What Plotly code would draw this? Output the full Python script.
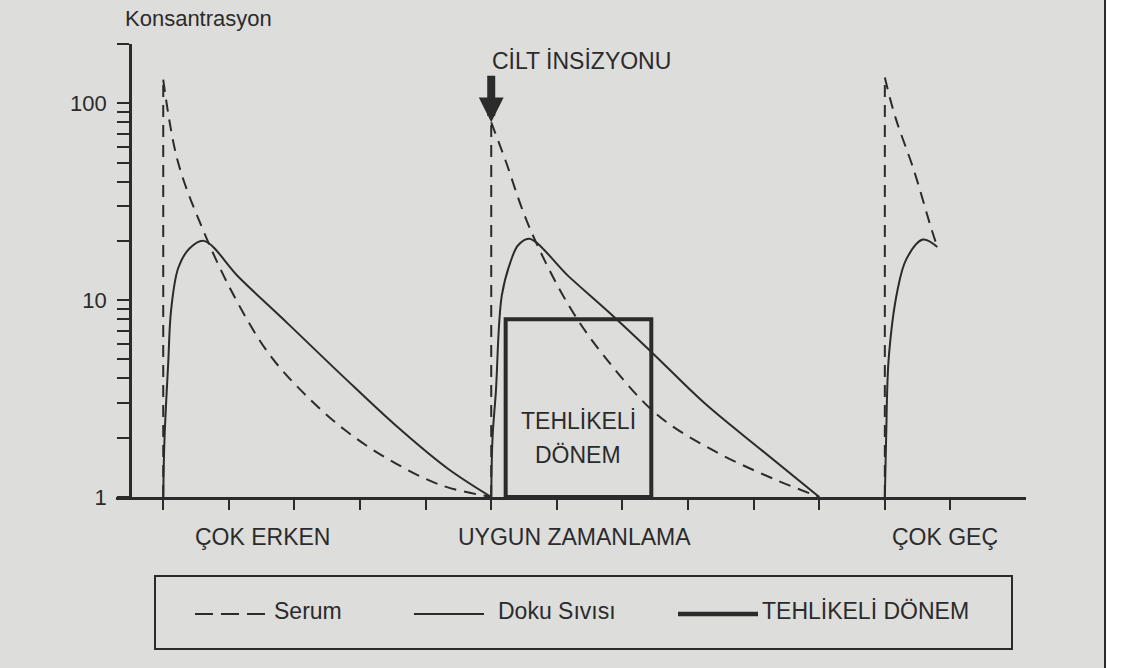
import math
import plotly.graph_objects as go

# ---------------- data ----------------
dose_times = [0.0, 5.0, 11.0]          # antibiotic doses (time units)
serum_peak = [132, 80, 135]            # serum concentration right after each dose

# serum decay after each dose
serum1_t = [0.0, 0.22, 0.6, 1.06, 1.6, 2.13, 2.76, 3.44, 4.23, 5.0]
serum1_c = [132, 51, 23, 10.8, 5.4, 3.4, 2.2, 1.55, 1.15, 1.0]
serum2_t = [5.0, 5.21, 5.58, 6.19, 6.76, 7.54, 8.42, 9.32, 10.0]
serum2_c = [80, 52, 23.5, 9.3, 5.0, 2.6, 1.7, 1.23, 1.0]
serum3_t = [11.0, 11.16, 11.44, 11.70, 11.80]
serum3_c = [135, 85, 46, 23.6, 18.6]

# tissue fluid concentration after each dose
tissue1_t = [0.0, 0.02, 0.076, 0.12, 0.23, 0.40, 0.62, 1.16, 1.9, 2.74, 3.55, 4.33, 5.0]
tissue1_c = [1.0, 2.0, 4.8, 8.9, 14.6, 18.3, 20.0, 13.0, 7.6, 4.1, 2.3, 1.4, 1.0]
tissue2_t = [5.0, 5.02, 5.07, 5.16, 5.29, 5.41, 5.58, 6.18, 6.79, 7.48, 8.25, 9.13, 10.0]
tissue2_c = [1.0, 2.0, 3.4, 10.5, 15.5, 19.0, 20.5, 13.2, 8.7, 5.3, 3.0, 1.72, 1.0]
tissue3_t = [11.0, 11.02, 11.06, 11.19, 11.33, 11.58, 11.80]
tissue3_c = [1.0, 2.0, 5.1, 11.1, 16.2, 20.3, 18.6]

# dangerous period (time window and concentration ceiling)
danger_start = 5.22
danger_end = 7.44
danger_level = 8.0

x_ticks = list(range(0, 13))
y_tickvals = [1, 2, 3, 4, 5, 6, 7, 8, 9, 10, 20, 30, 40, 50, 60, 70, 80, 90, 100, 200]
y_ticktext = ["1", "", "", "", "", "", "", "", "", "10", "", "", "", "", "", "", "", "", "100", ""]

phase_labels = ["ÇOK ERKEN", "UYGUN ZAMANLAMA", "ÇOK GEÇ"]

# ---------------- styling ----------------
INK = "#2b2b2b"
PAPER = "#dddddb"
FONT = "Liberation Sans, Arial, Helvetica, sans-serif"
DASH = "12px,8px"

L, R, T, B = 116, 100, 44, 171
W_FIG, H_FIG = 1126, 668
W = W_FIG - L - R
H = H_FIG - T - B


def px_x(px):
    return (px - L) / W


def px_y(py):
    return (H + T - py) / H


def label(text, x, y, xref="paper", size=23, xanchor="center"):
    return dict(text=text, xref=xref, yref="paper", x=x, y=y,
                xanchor=xanchor, yanchor="middle", showarrow=False,
                font=dict(size=size, color=INK, family=FONT))


fig = go.Figure()

# serum: vertical rise at each dose
rise_x, rise_y = [], []
for t, p in zip(dose_times, serum_peak):
    rise_x += [t, t, None]
    rise_y += [1, p, None]
fig.add_trace(go.Scatter(x=rise_x, y=rise_y, mode="lines",
                         line=dict(color=INK, width=2, dash=DASH),
                         hoverinfo="skip", showlegend=False))

# serum decays
for tx, cy in [(serum1_t, serum1_c), (serum2_t, serum2_c), (serum3_t, serum3_c)]:
    fig.add_trace(go.Scatter(x=tx, y=cy, mode="lines",
                             line=dict(color=INK, width=2, dash=DASH, shape="spline", smoothing=1.0),
                             showlegend=False))

# tissue fluid curves
for tx, cy in [(tissue1_t, tissue1_c), (tissue2_t, tissue2_c), (tissue3_t, tissue3_c)]:
    fig.add_trace(go.Scatter(x=tx, y=cy, mode="lines",
                             line=dict(color=INK, width=2, shape="spline", smoothing=1.0),
                             showlegend=False))

# dangerous-period box
fig.add_trace(go.Scatter(
    x=[danger_start, danger_start, danger_end, danger_end, danger_start],
    y=[1, danger_level, danger_level, 1, 1],
    mode="lines", line=dict(color=INK, width=4), showlegend=False))

annotations = []

# axis title
annotations.append(label("Konsantrasyon", px_x(198), px_y(19), size=22))

# incision arrow pointing at the second dose
annotations.append(dict(x=dose_times[1], y=math.log10(serum_peak[1]), xref="x", yref="y",
                        text="", showarrow=True, ax=0, ay=-48,
                        arrowhead=2, arrowsize=0.62, arrowwidth=8, arrowcolor=INK))
annotations.append(label("CİLT İNSİZYONU", px_x(581), px_y(61)))

# text inside the box
box_mid = (danger_start + danger_end) / 2
annotations.append(label("TEHLİKELİ", box_mid, px_y(421), xref="x"))
annotations.append(label("DÖNEM", box_mid, px_y(455), xref="x"))

# timing labels under the axis
for lab, xc in zip(phase_labels, [1.52, 6.27, 11.92]):
    annotations.append(label(lab, xc, px_y(537), xref="x"))

# legend entries
leg_y_line = px_y(614)
leg_y_text = px_y(611)
annotations.append(label("Serum", px_x(272), leg_y_text, xanchor="left"))
annotations.append(label("Doku Sıvısı", px_x(496), leg_y_text, xanchor="left"))
annotations.append(label("TEHLİKELİ DÖNEM", px_x(760), leg_y_text, xanchor="left"))

shapes = [
    # legend frame
    dict(type="rect", xref="paper", yref="paper", x0=px_x(155), x1=px_x(1012),
         y0=px_y(649), y1=px_y(576), line=dict(color=INK, width=2)),
    dict(type="line", xref="paper", yref="paper", x0=px_x(195), x1=px_x(267),
         y0=leg_y_line, y1=leg_y_line, line=dict(color=INK, width=2, dash="18px,8px")),
    dict(type="line", xref="paper", yref="paper", x0=px_x(414), x1=px_x(484),
         y0=leg_y_line, y1=leg_y_line, line=dict(color=INK, width=2)),
    dict(type="line", xref="paper", yref="paper", x0=px_x(678), x1=px_x(758),
         y0=leg_y_line, y1=leg_y_line, line=dict(color=INK, width=4.5)),
    # page edge on the right
    dict(type="rect", xref="paper", yref="paper", x0=px_x(1105), x1=px_x(1140),
         y0=px_y(700), y1=px_y(-30), fillcolor="white", line=dict(width=0), layer="below"),
    dict(type="line", xref="paper", yref="paper", x0=px_x(1105), x1=px_x(1105),
         y0=px_y(700), y1=px_y(-30), line=dict(color=INK, width=2)),
]

x_lo = -0.72
x_hi = x_lo + W / 65.6
y_axis_t = -0.51

fig.update_layout(
    width=W_FIG, height=H_FIG,
    margin=dict(l=L, r=R, t=T, b=B, pad=0),
    paper_bgcolor=PAPER, plot_bgcolor=PAPER,
    showlegend=False,
    font=dict(family=FONT, color=INK),
    annotations=annotations,
    shapes=shapes,
    xaxis=dict(range=[x_lo, x_hi], showgrid=False, zeroline=False,
               showline=True, linecolor=INK, linewidth=2.5,
               tickmode="array", tickvals=x_ticks, ticks="outside",
               ticklen=10, tickwidth=2, tickcolor=INK, showticklabels=False),
    yaxis=dict(type="log", range=[0, math.log10(200)], showgrid=False, zeroline=False,
               anchor="free", position=(y_axis_t - x_lo) / (x_hi - x_lo),
               showline=True, linecolor=INK, linewidth=2.5,
               tickmode="array", tickvals=y_tickvals, ticktext=y_ticktext,
               ticks="outside", ticklen=12, tickwidth=2, tickcolor=INK,
               ticklabelstandoff=6,
               tickfont=dict(size=22, color=INK, family=FONT)),
)

fig.write_html("out.html")
